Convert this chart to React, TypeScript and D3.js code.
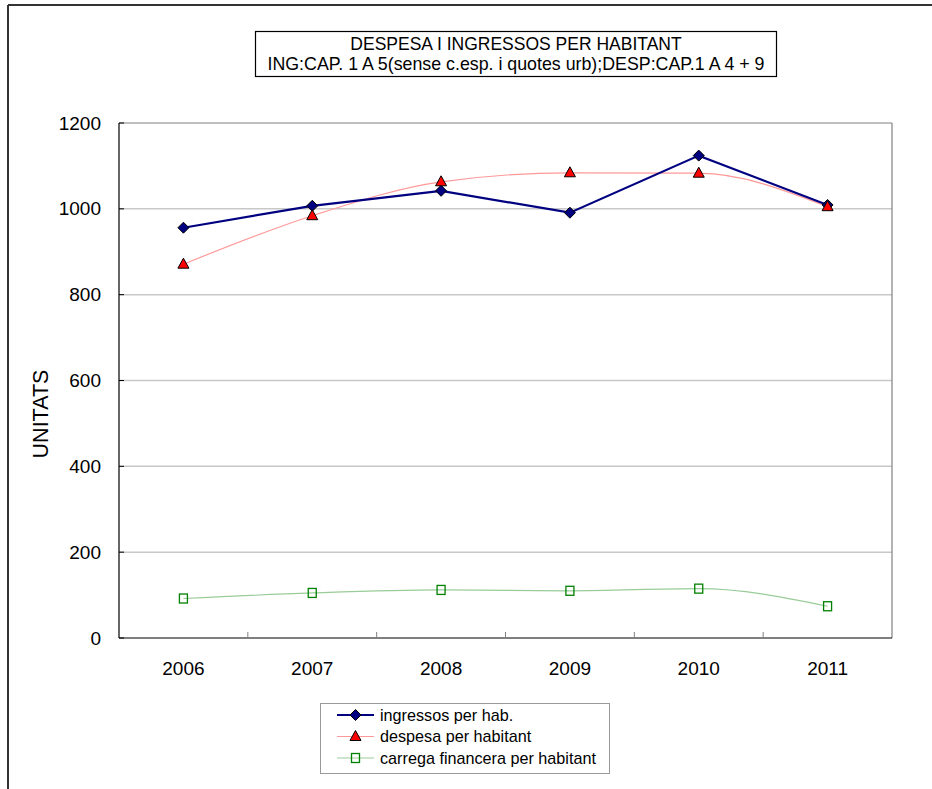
import * as d3 from "d3";

const YEARS = ["2006", "2007", "2008", "2009", "2010", "2011"];
const INGRESSOS = [956, 1007, 1042, 991, 1124, 1009];
const DESPESA = [871, 984, 1063, 1084, 1083, 1005];
const CARREGA = [92, 105, 112, 110, 115, 74];
const Y_TICKS = [0, 200, 400, 600, 800, 1000, 1200];

const TITLE = "DESPESA I INGRESSOS PER HABITANT";
const SUBTITLE = "ING:CAP. 1 A 5(sense c.esp. i quotes urb);DESP:CAP.1 A 4 + 9";
const LEGEND = ["ingressos per hab.", "despesa per habitant", "carrega financera per habitant"];

const W = 932;
const H = 789;
const PLOT = { left: 119, top: 123, right: 892, bottom: 638 };
const FONT = "Arial, 'Liberation Sans', Helvetica, sans-serif";

const NAVY = "#000080";
const PINK = "#ff9999";
const RED = "#ff0000";
const GREEN = "#99cc99";
const DARK_GREEN = "#008000";

function Diamond({ x, y }: { x: number; y: number }) {
  const r = 5.5;
  return <path d={`M${x},${y - r}L${x + r},${y}L${x},${y + r}L${x - r},${y}Z`} fill={NAVY} stroke="#000" strokeWidth={1} />;
}

function Triangle({ x, y }: { x: number; y: number }) {
  return <path d={`M${x},${y - 6}L${x + 5.5},${y + 4}L${x - 5.5},${y + 4}Z`} fill={RED} stroke="#000" strokeWidth={1} />;
}

function Square({ x, y }: { x: number; y: number }) {
  return <rect x={x - 4} y={y - 4.5} width={8} height={9} fill="none" stroke={DARK_GREEN} strokeWidth={1.3} />;
}

export default function App() {
  const x = d3.scaleBand<string>().domain(YEARS).range([PLOT.left, PLOT.right]);
  const y = d3.scaleLinear().domain([0, 1200]).range([PLOT.bottom, PLOT.top]);
  const cx = (year: string) => (x(year) ?? 0) + x.bandwidth() / 2;

  const straight = d3.line<number>().x((_, i) => cx(YEARS[i])).y((v) => y(v));
  const smooth = d3
    .line<number>()
    .x((_, i) => cx(YEARS[i]))
    .y((v) => y(v))
    .curve(d3.curveMonotoneX);

  const boundaries = YEARS.slice(1).map((year) => x(year) ?? 0);

  return (
    <svg width={W} height={H} style={{ position: "absolute", left: 0, top: 0 }} fontFamily={FONT}>
      <rect x={0} y={0} width={W} height={H} fill="#fff" />
      {/* outer chart frame */}
      <line x1={8} y1={5} x2={W} y2={5} stroke="#333" strokeWidth={2} />
      <line x1={8} y1={5} x2={8} y2={H} stroke="#333" strokeWidth={2} />

      {/* title box */}
      <rect x={255.5} y={31.5} width={521} height={45} fill="#fff" stroke="#000" strokeWidth={1.2} />
      <text x={516} y={50} textAnchor="middle" fontSize={17.5} fill="#000">
        {TITLE}
      </text>
      <text x={516} y={70} textAnchor="middle" fontSize={17.8} fill="#000">
        {SUBTITLE}
      </text>

      {/* grid */}
      {Y_TICKS.filter((t) => t > 0 && t < 1200).map((t) => (
        <line key={t} x1={PLOT.left} x2={PLOT.right} y1={y(t)} y2={y(t)} stroke="#c8c8c8" strokeWidth={1.5} />
      ))}
      <line x1={PLOT.left} x2={PLOT.right} y1={PLOT.top} y2={PLOT.top} stroke="#808080" strokeWidth={1.2} />
      <line x1={PLOT.right} x2={PLOT.right} y1={PLOT.top} y2={PLOT.bottom} stroke="#808080" strokeWidth={1.2} />

      {/* axes */}
      <line x1={PLOT.left} x2={PLOT.left} y1={PLOT.top} y2={PLOT.bottom} stroke="#000" strokeWidth={1.2} />
      <line x1={PLOT.left} x2={PLOT.right} y1={PLOT.bottom} y2={PLOT.bottom} stroke="#000" strokeWidth={1.2} />
      {Y_TICKS.map((t) => (
        <g key={t}>
          <line x1={PLOT.left} x2={PLOT.left + 5} y1={y(t)} y2={y(t)} stroke="#000" />
          <text x={101} y={y(t) + 6.5} textAnchor="end" fontSize={19} fill="#000">
            {t}
          </text>
        </g>
      ))}
      {boundaries.map((bx) => (
        <line key={bx} x1={bx} x2={bx} y1={PLOT.bottom - 6} y2={PLOT.bottom} stroke="#808080" />
      ))}
      {YEARS.map((year) => (
        <text key={year} x={cx(year)} y={674.5} textAnchor="middle" fontSize={19} fill="#000">
          {year}
        </text>
      ))}
      <text x={48} y={414} textAnchor="middle" fontSize={21.5} fill="#000" transform="rotate(-90 48 414)">
        UNITATS
      </text>

      {/* series */}
      <path d={smooth(CARREGA) ?? undefined} fill="none" stroke={GREEN} strokeWidth={1.2} />
      <path d={smooth(DESPESA) ?? undefined} fill="none" stroke={PINK} strokeWidth={1.2} />
      <path d={straight(INGRESSOS) ?? undefined} fill="none" stroke={NAVY} strokeWidth={2.2} />
      {CARREGA.map((v, i) => (
        <Square key={`c${i}`} x={cx(YEARS[i])} y={y(v)} />
      ))}
      {INGRESSOS.map((v, i) => (
        <Diamond key={`i${i}`} x={cx(YEARS[i])} y={y(v)} />
      ))}
      {DESPESA.map((v, i) => (
        <Triangle key={`d${i}`} x={cx(YEARS[i])} y={y(v)} />
      ))}

      {/* legend */}
      <rect x={320.5} y={703.5} width={289} height={70} fill="#fff" stroke="#999" strokeWidth={1} />
      {LEGEND.map((label, i) => {
        const ly = 715 + i * 21.5;
        return (
          <g key={label}>
            <line
              x1={337}
              x2={374}
              y1={ly}
              y2={ly}
              stroke={i === 0 ? NAVY : i === 1 ? PINK : GREEN}
              strokeWidth={i === 0 ? 2.2 : 1.2}
            />
            {i === 0 && <Diamond x={355.5} y={ly} />}
            {i === 1 && <Triangle x={355.5} y={ly} />}
            {i === 2 && <Square x={355.5} y={ly} />}
            <text x={380} y={ly + 5.5} fontSize={16.2} fill="#000">
              {label}
            </text>
          </g>
        );
      })}
    </svg>
  );
}
